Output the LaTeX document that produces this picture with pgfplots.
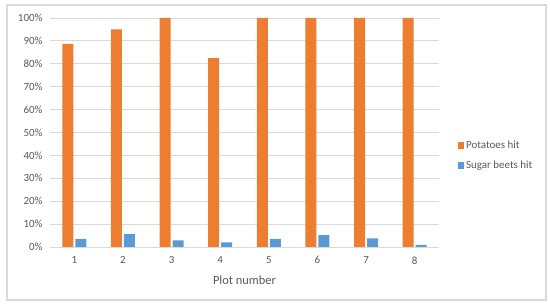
\documentclass[border=0pt]{standalone}
\usepackage{pgfplots}
\pgfplotsset{compat=1.18}
\usepackage{fontspec}
\setmainfont{Carlito}
\definecolor{orng}{HTML}{ED7D31}
\definecolor{blu}{HTML}{5B9BD5}
\definecolor{txt}{HTML}{595959}
\definecolor{grd}{HTML}{D9D9D9}
\begin{document}
\begin{tikzpicture}
\useasboundingbox (0bp,0bp) rectangle (550bp,306bp);
\draw[grd, line width=1.2bp] (7bp,6bp) rectangle (546bp,301bp);
\begin{axis}[
  at={(50bp,59bp)}, anchor=south west,
  scale only axis, width=389bp, height=229bp,
  ybar=2bp, bar width=11bp,
  ymin=0, ymax=100, xmin=0.5, xmax=8.5,
  xtick={1,...,8}, ytick={0,10,...,100},
  /pgf/number format/assume math mode=true,
  yticklabel={\pgfmathprintnumber{\tick}\%},
  ticklabel style={font=\fontsize{11}{13}\selectfont, text=txt},
  yticklabel style={xshift=-4bp},
  xticklabel style={yshift=-6bp},
  major tick length=0pt,
  axis line style={draw=none},
  ymajorgrids, grid style={grd, line width=0.8bp},
  xlabel={Plot number},
  xlabel style={at={(axis description cs:0.5,0)}, anchor=center, yshift=-33bp, font=\fontsize{12.5}{14}\selectfont, text=txt},
  legend style={at={(1.04,0.40)}, anchor=west, draw=none, fill=none, font=\fontsize{11}{13}\selectfont, text=txt, row sep=7bp},
  legend cell align=left,
  legend image code/.code={\fill[#1] (0bp,-3.2bp) rectangle (6.4bp,3.2bp);},
]
\addplot[fill=orng, draw=none] coordinates {(1,88.7) (2,95.0) (3,100) (4,82.5) (5,100) (6,100) (7,100) (8,100)};
\addplot[fill=blu, draw=none] coordinates {(1,3.5) (2,5.6) (3,2.9) (4,2.0) (5,3.5) (6,5.2) (7,3.8) (8,0.9)};
\legend{Potatoes hit, Sugar beets hit}
\end{axis}
\end{tikzpicture}
\end{document}
